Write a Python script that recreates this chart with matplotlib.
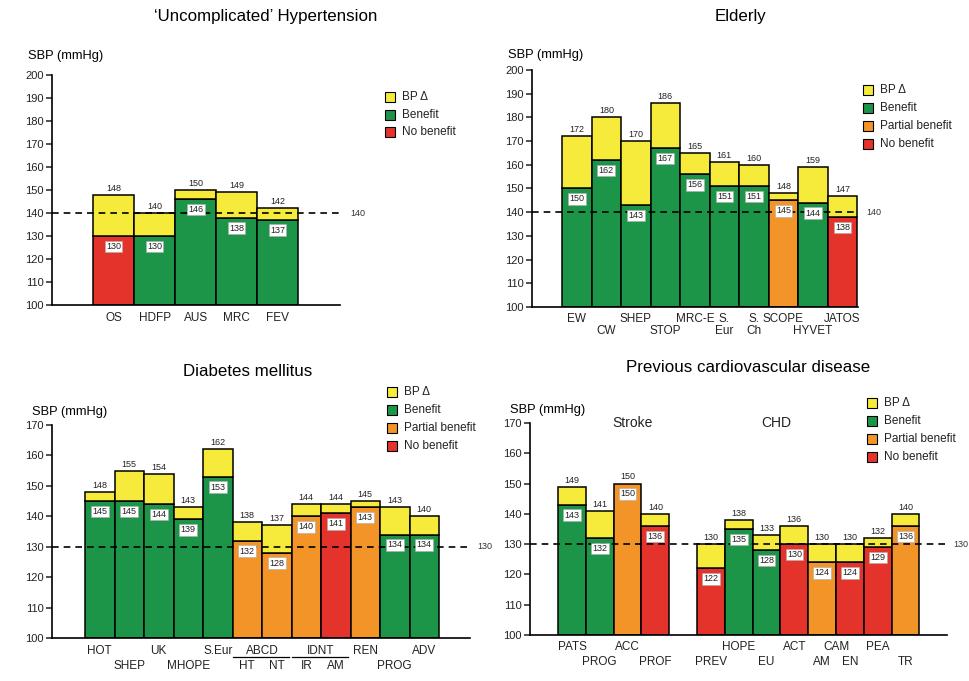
import matplotlib
matplotlib.use('Agg')
import matplotlib.pyplot as plt
import matplotlib.transforms as mtransforms
from matplotlib.patches import Rectangle

plt.rcParams['font.family'] = ['Liberation Sans', 'DejaVu Sans']

W, H = 969, 681

COLORS = {'delta': '#f6eb3b', 'benefit': '#1c9549', 'partial': '#f29428', 'none': '#e4332a'}
LEGEND_TEXT = {'delta': 'BP \u0394', 'benefit': 'Benefit', 'partial': 'Partial benefit', 'none': 'No benefit'}

# 'Uncomplicated' hypertension
ht_start = [148, 140, 150, 149, 142]
ht_achieved = [130, 130, 146, 138, 137]
ht_outcome = ['none', 'benefit', 'benefit', 'benefit', 'benefit']
ht_row1 = ['OS', 'HDFP', 'AUS', 'MRC', 'FEV']

# Elderly
el_start = [172, 180, 170, 186, 165, 161, 160, 148, 159, 147]
el_achieved = [150, 162, 143, 167, 156, 151, 151, 145, 144, 138]
el_outcome = ['benefit'] * 7 + ['partial', 'benefit', 'none']
el_row1 = ['EW', '', 'SHEP', '', 'MRC-E', 'S.', 'S.', 'SCOPE', '', 'JATOS']
el_row2 = ['', 'CW', '', 'STOP', '', 'Eur', 'Ch', '', 'HYVET', '']

# Diabetes mellitus
dm_start = [148, 155, 154, 143, 162, 138, 137, 144, 144, 145, 143, 140]
dm_achieved = [145, 145, 144, 139, 153, 132, 128, 140, 141, 143, 134, 134]
dm_outcome = ['benefit'] * 5 + ['partial', 'partial', 'partial', 'none', 'partial', 'benefit', 'benefit']
dm_row1 = ['HOT', '', 'UK', '', 'S.Eur', '', '', '', '', 'REN', '', 'ADV']
dm_row2 = ['', 'SHEP', '', 'MHOPE', '', 'HT', 'NT', 'IR', 'AM', '', 'PROG', '']
dm_groups = [('ABCD', 5, 6), ('IDNT', 7, 8)]

# Previous cardiovascular disease (stroke, then CHD)
cvd_pos = [0, 1, 2, 3, 5, 6, 7, 8, 9, 10, 11, 12]
cvd_start = [149, 141, 150, 140, 130, 138, 133, 136, 130, 130, 132, 140]
cvd_achieved = [143, 132, 150, 136, 122, 135, 128, 130, 124, 124, 129, 136]
cvd_outcome = ['benefit', 'benefit', 'partial', 'none', 'none', 'benefit', 'benefit',
               'none', 'partial', 'none', 'none', 'partial']
cvd_row1 = ['PATS', '', 'ACC', '', '', 'HOPE', '', 'ACT', '', '', 'PEA', '']
cvd_row2 = ['', 'PROG', '', 'PROF', 'PREV', '', 'EU', '', 'AM', 'EN', '', 'TR']
cvd_groups = [('CAM', 8, 9)]

fig = plt.figure(figsize=(W / 100, H / 100), dpi=100)


def add_axes_px(left, top, right, bottom):
    return fig.add_axes([left / W, 1 - bottom / H, (right - left) / W, (bottom - top) / H])


def fig_text(px, py, s, **kw):
    fig.text(px / W, 1 - py / H, s, **kw)


def draw_panel(ax, pos, start, achieved, outcome, ymax, target, xlim, ref_x):
    for x, s, a, o in zip(pos, start, achieved, outcome):
        ax.bar(x, a - 100, bottom=100, width=1, color=COLORS[o], edgecolor='black', lw=1.1, zorder=2)
        if s > a:
            ax.bar(x, s - a, bottom=a, width=1, color=COLORS['delta'], edgecolor='black', lw=1.1, zorder=2)
        ax.annotate(str(s), (x, s), xytext=(0, 1.5), textcoords='offset points',
                    ha='center', va='bottom', fontsize=6.5, color='#222222', zorder=4)
        ax.annotate(str(a), (x, a), xytext=(0, -7.5), textcoords='offset points',
                    ha='center', va='center', fontsize=6.5, color='#222222', zorder=4,
                    bbox=dict(boxstyle='square,pad=0.15', fc='white', ec='#aaaaaa', lw=0.4))
    ax.axhline(target, color='black', ls=(0, (4, 3)), lw=1.2, zorder=3, clip_on=False)
    ax.text(ref_x, target, str(target), transform=ax.get_yaxis_transform(),
            ha='left', va='center', fontsize=6.5, color='#333333')
    ax.set_xlim(*xlim)
    ax.set_ylim(100, ymax)
    ax.set_yticks(range(100, ymax + 1, 10))
    ax.set_xticks([])
    ax.spines['top'].set_visible(False)
    ax.spines['right'].set_visible(False)
    ax.spines['left'].set_linewidth(1.2)
    ax.spines['bottom'].set_linewidth(1.2)
    ax.tick_params(axis='y', length=4, width=1.1, labelsize=8, colors='#222222', pad=2)


def x_labels(ax, pos, labels, dy):
    trans = mtransforms.offset_copy(ax.get_xaxis_transform(), fig=fig, x=0, y=-dy, units='dots')
    for x, t in zip(pos, labels):
        if t:
            ax.text(x, 0, t, transform=trans, ha='center', va='center', fontsize=8.5, color='#222222')


def group_labels(ax, pos, groups, dy, line_dy=None):
    trans = mtransforms.offset_copy(ax.get_xaxis_transform(), fig=fig, x=0, y=-dy, units='dots')
    for name, i0, i1 in groups:
        ax.text((pos[i0] + pos[i1]) / 2, 0, name, transform=trans, ha='center', va='center',
                fontsize=8.5, color='#222222')
        if line_dy is not None:
            ltrans = mtransforms.offset_copy(ax.get_xaxis_transform(), fig=fig, x=0, y=-line_dy, units='dots')
            ax.plot([pos[i0] - 0.5, pos[i1] + 0.4], [0, 0], transform=ltrans, color='black',
                    lw=0.9, clip_on=False)


def legend(keys, left, top, step):
    for i, k in enumerate(keys):
        cy = top + i * step
        fig.add_artist(Rectangle((left / W, 1 - (cy + 5) / H), 10 / W, 10 / H,
                                 transform=fig.transFigure, fc=COLORS[k], ec='black', lw=0.8))
        fig_text(left + 17, cy, LEGEND_TEXT[k], ha='left', va='center', fontsize=8.5, color='#222222')


# panel 1
ax1 = add_axes_px(52, 75, 340, 305)
p1 = list(range(len(ht_start)))
draw_panel(ax1, p1, ht_start, ht_achieved, ht_outcome, 200, 140, (-1.5, 5.52), 1.035)
x_labels(ax1, p1, ht_row1, 13)
fig_text(266, 17, '\u2018Uncomplicated\u2019 Hypertension', ha='center', va='center', fontsize=12.2)
fig_text(28, 56, 'SBP (mmHg)', ha='left', va='center', fontsize=9.3)
legend(['delta', 'benefit', 'none'], 385, 97, 17.5)

# panel 2
ax2 = add_axes_px(532, 70, 858, 307)
p2 = list(range(len(el_start)))
draw_panel(ax2, p2, el_start, el_achieved, el_outcome, 200, 140, (-1.52, 9.53), 1.025)
x_labels(ax2, p2, el_row1, 12)
x_labels(ax2, p2, el_row2, 24)
fig_text(741, 17, 'Elderly', ha='center', va='center', fontsize=12.2)
fig_text(508, 55, 'SBP (mmHg)', ha='left', va='center', fontsize=9.3)
legend(['delta', 'benefit', 'partial', 'none'], 863, 90, 18)

# panel 3
ax3 = add_axes_px(52, 425, 470, 638)
p3 = list(range(len(dm_start)))
draw_panel(ax3, p3, dm_start, dm_achieved, dm_outcome, 170, 130, (-1.62, 12.55), 1.017)
x_labels(ax3, p3, dm_row1, 13)
x_labels(ax3, p3, dm_row2, 28)
group_labels(ax3, p3, dm_groups, 13, line_dy=19)
fig_text(248, 372, 'Diabetes mellitus', ha='center', va='center', fontsize=12.2)
fig_text(32, 412, 'SBP (mmHg)', ha='left', va='center', fontsize=9.3)
legend(['delta', 'benefit', 'partial', 'none'], 387, 392, 18)

# panel 4
ax4 = add_axes_px(530, 423, 947, 635)
draw_panel(ax4, cvd_pos, cvd_start, cvd_achieved, cvd_outcome, 170, 130, (-1.51, 13.49), 1.014)
x_labels(ax4, cvd_pos, cvd_row1, 12)
x_labels(ax4, cvd_pos, cvd_row2, 27)
group_labels(ax4, cvd_pos, cvd_groups, 12)
ax4.text(2.16, 170, 'Stroke', ha='center', va='center', fontsize=10, color='#222222')
ax4.text(7.34, 170, 'CHD', ha='center', va='center', fontsize=10, color='#222222')
fig_text(748, 367, 'Previous cardiovascular disease', ha='center', va='center', fontsize=12.2)
fig_text(510, 410, 'SBP (mmHg)', ha='left', va='center', fontsize=9.3)
legend(['delta', 'benefit', 'partial', 'none'], 867, 403, 18)

fig.savefig('out.png', dpi=100)
